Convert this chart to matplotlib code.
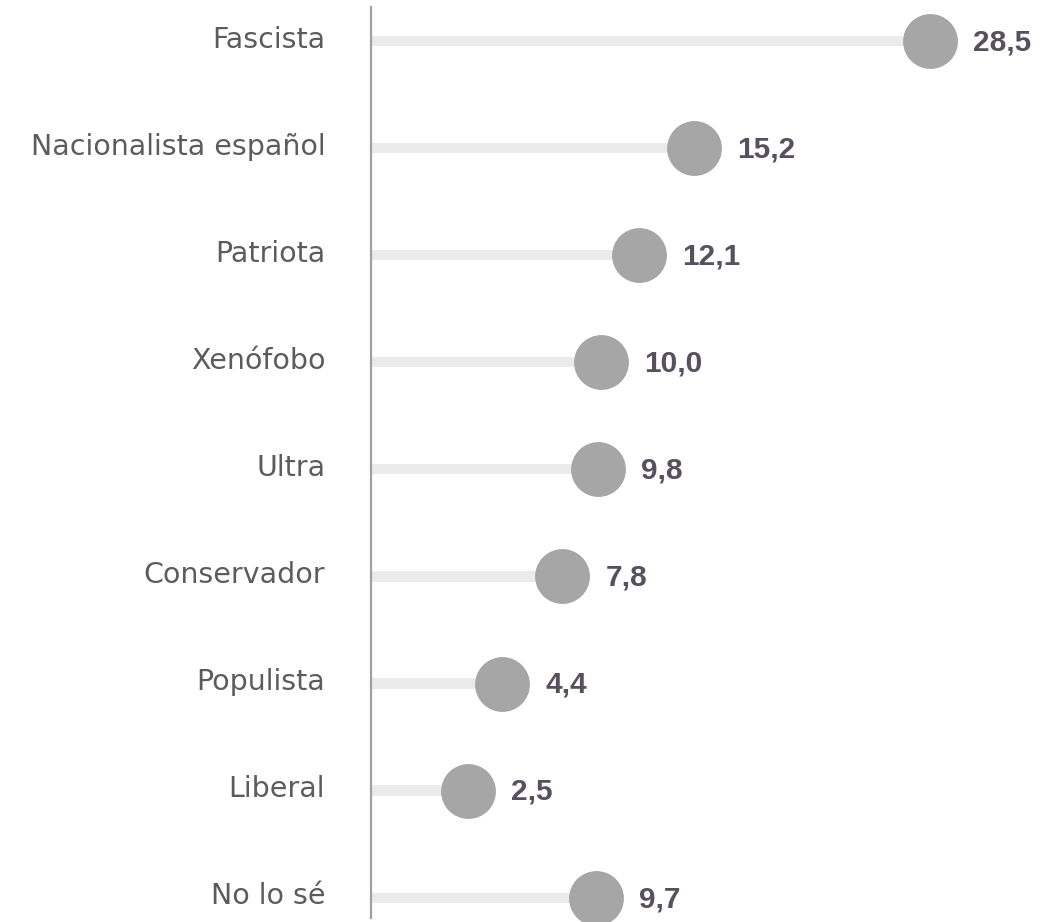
import matplotlib
matplotlib.use("Agg")
import matplotlib.pyplot as plt
from matplotlib.transforms import ScaledTranslation

categories = ["Fascista", "Nacionalista español", "Patriota", "Xenófobo", "Ultra",
              "Conservador", "Populista", "Liberal", "No lo sé"]
values = [28.5, 15.2, 12.1, 10.0, 9.8, 7.8, 4.4, 2.5, 9.7]
value_labels = ["28,5", "15,2", "12,1", "10,0", "9,8", "7,8", "4,4", "2,5", "9,7"]

W, H, DPI = 1040, 922, 100
fig = plt.figure(figsize=(W / DPI, H / DPI), dpi=DPI)
# axes spans from the vertical rule (x=371) to the right edge
ax = fig.add_axes([371 / W, 4 / H, (W - 371) / W, (918 - 7) / H])

x0, x1 = -2.98, 34.7
ypos = list(range(len(categories)))

ax.barh(ypos, [v - x0 for v in values], left=x0, height=0.095, color="#ebebeb", zorder=1)
ax.scatter(values, ypos, s=1560, color="#a6a6a6", zorder=3, clip_on=False, linewidths=0)

for y, v, lab in zip(ypos, values, value_labels):
    ax.annotate(lab, (v, y), xytext=(31, -1), textcoords="offset points",
                ha="left", va="center", fontsize=21.5, fontweight="bold",
                color="#57505e", family="Liberation Sans")

ax.set_xlim(x0, x1)
ax.set_ylim(len(categories) - 1 + 0.19, -0.318)
ax.set_yticks(ypos)
ax.set_yticklabels(categories, fontsize=20.5, color="#5c5c5c", family="DejaVu Sans")
ax.tick_params(axis="y", length=0, pad=33)
# labels sit a touch above the dot centres
nudge = ScaledTranslation(0, 3 / 72, fig.dpi_scale_trans)
for lbl in ax.get_yticklabels():
    lbl.set_transform(lbl.get_transform() + nudge)
ax.set_xticks([])
for side in ("top", "right", "bottom"):
    ax.spines[side].set_visible(False)
ax.spines["left"].set_color("#a0a0a0")
ax.spines["left"].set_linewidth(1.6)

fig.savefig("out.png", dpi=DPI)
